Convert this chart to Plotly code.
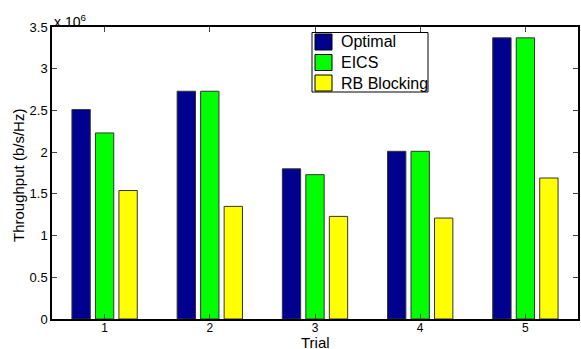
import plotly.graph_objects as go

trials = [1, 2, 3, 4, 5]
tick_labels = ["1", "2", "3", "4", "5"]
optimal = [2.51, 2.73, 1.80, 2.01, 3.37]
eics = [2.23, 2.73, 1.73, 2.01, 3.37]
rb_blocking = [1.54, 1.35, 1.23, 1.21, 1.69]
y_ticks = [0, 0.5, 1, 1.5, 2, 2.5, 3, 3.5]
y_tick_labels = ["0", "0.5", "1", "1.5", "2", "2.5", "3", "3.5"]
series_names = ["Optimal", "EICS", "RB Blocking"]
series_colors = ["#00008F", "#00FF00", "#FFFF00"]
series_values = [optimal, eics, rb_blocking]

W, H = 581, 349
ML, MR, MT, MB = 52, 3, 27, 30
PW, PH = W - ML - MR, H - MT - MB


def px_x(px):
    return (px - ML) / PW


def px_y(py):
    return (H - MB - py) / PH


fig = go.Figure()
for name, vals, col in zip(series_names, series_values, series_colors):
    fig.add_trace(go.Bar(
        x=trials, y=vals, name=name, showlegend=False,
        marker=dict(color=col, line=dict(color="#333333", width=1)),
    ))

# legend drawn as a box with swatches and labels
shapes = [dict(type="rect", xref="paper", yref="paper",
               x0=px_x(312), x1=px_x(428), y0=px_y(92), y1=px_y(32.5),
               line=dict(color="black", width=1), fillcolor="white", layer="above")]
annotations = []
row_top = [34, 54.5, 75]
for i, (name, col) in enumerate(zip(series_names, series_colors)):
    t = row_top[i]
    shapes.append(dict(type="rect", xref="paper", yref="paper",
                       x0=px_x(315), x1=px_x(332), y0=px_y(t + 16), y1=px_y(t),
                       line=dict(color="black", width=1), fillcolor=col, layer="above"))
    annotations.append(dict(text=name, xref="paper", yref="paper",
                            x=px_x(339), y=px_y(t + 8), xanchor="left", yanchor="middle",
                            showarrow=False, font=dict(size=16)))

annotations += [
    dict(text="x 10<sup>6</sup>", xref="paper", yref="paper",
         x=0.0, y=1.0, xanchor="left", yanchor="bottom",
         showarrow=False, font=dict(size=14), yshift=-5),
    dict(text="Trial", xref="paper", yref="paper",
         x=0.5, y=px_y(H), xanchor="center", yanchor="bottom",
         showarrow=False, font=dict(size=15), yshift=-3, borderpad=0),
    dict(text="Throughput (b/s/Hz)", xref="paper", yref="paper",
         x=0, y=0.5, xanchor="center", yanchor="middle", textangle=-90,
         showarrow=False, font=dict(size=15), xshift=-34, yshift=-3),
]

font_family = "Liberation Sans, Arial, Helvetica, sans-serif"
fig.update_layout(
    width=W, height=H,
    margin=dict(l=ML, r=MR, t=MT, b=MB, autoexpand=False),
    paper_bgcolor="white", plot_bgcolor="white",
    barmode="group", bargap=0.33, bargroupgap=0.22,
    font=dict(family=font_family, size=13, color="black"),
    showlegend=False,
    xaxis=dict(
        range=[0.5, 5.5], tickvals=trials, ticktext=tick_labels,
        ticks="inside", ticklen=5, showline=True, linecolor="black",
        linewidth=1.5, mirror="ticks", showgrid=False, zeroline=False,
        automargin=False, tickfont=dict(size=12), ticklabelstandoff=-3,
    ),
    yaxis=dict(
        range=[0, 3.5], tickvals=y_ticks, ticktext=y_tick_labels,
        ticks="inside", ticklen=5, showline=True, linecolor="black",
        linewidth=1.5, mirror="ticks", showgrid=False, zeroline=False,
        automargin=False, tickfont=dict(size=13),
    ),
    shapes=shapes,
    annotations=annotations,
)

fig.write_html("out.html", config={"displayModeBar": False},
               post_script="document.body.style.margin='0px';")
